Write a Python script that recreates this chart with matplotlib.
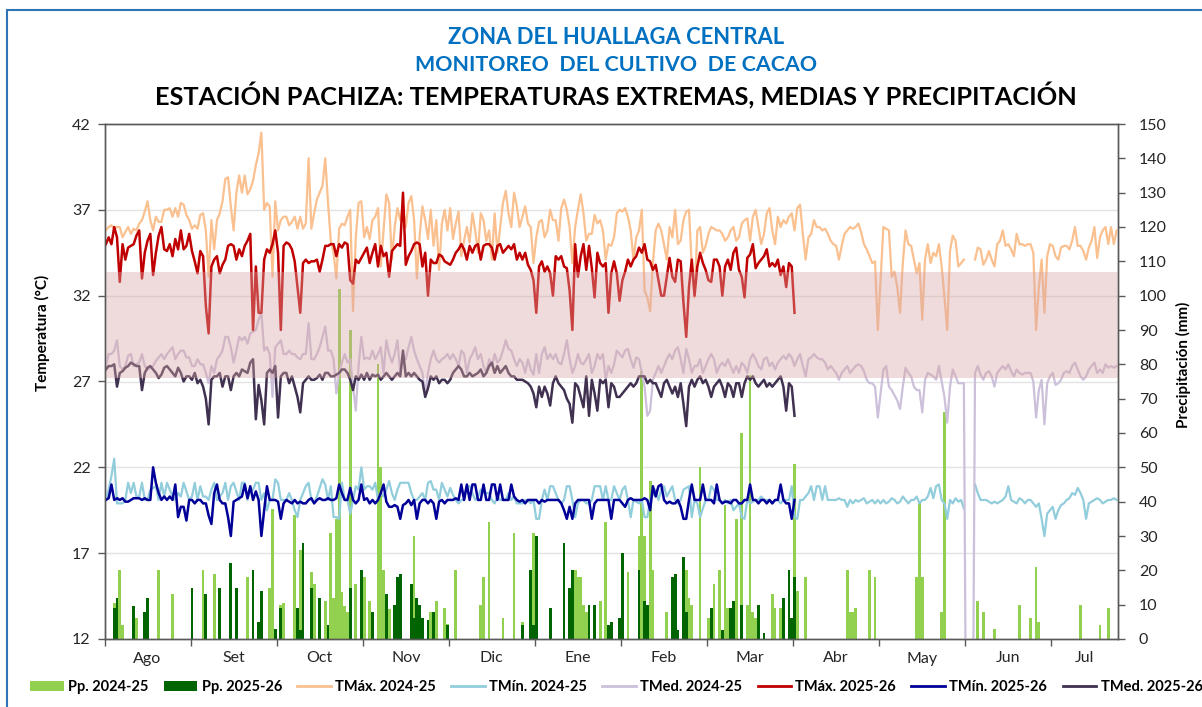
import numpy as np
import matplotlib
matplotlib.use("Agg")
import matplotlib.pyplot as plt
from matplotlib.patches import Patch, Rectangle
from matplotlib.lines import Line2D

# categories: one per day, Aug 1 -> Jul 31, month label every 31 days
MONTHS = ["Ago", "Set", "Oct", "Nov", "Dic", "Ene", "Feb", "Mar", "Abr", "May", "Jun", "Jul"]
N_DAYS = 365
DAYS_PER_LABEL = 31

TEMP_TICKS = [12, 17, 22, 27, 32, 37, 42]
PP_TICKS = list(range(0, 151, 10))
BAND = (27.2, 33.4)  # shaded optimum range, degC

nan = np.nan

# ---- 2024-25 daily values (365) ----
tmax_2425 = [
    # Aug - Oct
    35.8, 36.0, 36.1, 35.9, 36.0, 36.0, 35.4, 35.7, 36.0, 35.6,
    35.9, 35.8, 36.2, 36.4, 36.9, 37.5, 36.4, 35.8, 36.6, 36.3,
    36.3, 37.0, 37.0, 37.1, 36.6, 37.1, 36.6, 37.4, 37.3, 36.7,
    36.4, 35.9, 36.1, 35.9, 36.7, 36.8, 35.8, 33.1, 36.4, 34.7,
    36.4, 36.8, 37.5, 38.8, 38.9, 37.2, 35.8, 38.0, 39.0, 38.0,
    39.0, 37.9, 38.2, 38.7, 39.6, 40.3, 41.5, 37.0, 37.4, 37.2,
    33.1, 37.5, 35.8, 36.4, 36.6, 36.6, 36.1, 36.3, 36.6, 35.9,
    36.6, 35.9, 36.2, 40.0, 35.9, 36.8, 37.6, 38.0, 38.4, 40.0,
    37.4, 35.2, 34.5, 33.0, 35.9, 36.2, 36.1, 36.6,
    # Oct - Jan
    37.0, 31.1, 35.4, 37.4, 37.5, 35.4, 36.0, 35.3, 36.4, 36.6,
    37.1, 33.7, 35.8, 37.9, 37.4, 34.1, 36.0, 37.1, 36.4, 37.2,
    36.0, 37.4, 37.8, 36.4, 33.0, 35.5, 37.2, 36.4, 35.3, 37.0,
    34.9, 36.4, 33.5, 36.2, 37.0, 35.8, 37.1, 35.3, 36.2, 36.9,
    34.3, 35.2, 36.0, 35.1, 36.8, 35.8, 34.5, 36.8, 36.4, 35.2,
    35.8, 34.1, 36.8, 34.5, 36.0, 37.4, 38.1, 36.8, 36.0, 38.0,
    37.2, 36.0, 36.6, 37.2, 36.2, 36.0, 33.9, 35.4, 36.3, 36.4,
    35.4, 35.8, 37.0, 36.4, 36.4, 35.2, 37.1, 37.6, 37.0, 36.0,
    33.9, 36.0, 37.0, 37.9, 36.8, 35.2, 35.6, 35.6, 36.7, 36.2,
    # Jan - Apr
    36.4, 35.8, 34.1, 35.0, 34.9, 35.4, 36.8, 37.0, 36.9, 37.1,
    36.6, 35.8, 34.1, 35.4, 35.8, 37.0, 32.3, 31.9, 31.1, 33.9,
    35.8, 36.2, 35.8, 35.0, 34.1, 36.0, 35.4, 37.0, 35.0, 35.2,
    36.4, 36.9, 37.0, 33.7, 31.9, 35.8, 36.0, 34.5, 34.9, 35.6,
    36.0, 35.9, 35.8, 35.8, 35.6, 35.2, 35.4, 35.8, 36.0, 35.2,
    35.4, 36.2, 36.4, 36.5, 35.2, 36.6, 37.0, 36.0, 35.0, 35.6,
    36.8, 37.1, 35.8, 35.0, 36.6, 36.0, 36.4, 36.2, 36.6, 36.8,
    35.8, 37.1, 37.3, 35.6, 34.1, 35.4, 35.6, 36.4, 36.0, 36.0,
    35.8, 35.9, 35.6, 35.2, 35.0, 34.9, 34.1, 34.9, 35.6, 35.8,
    # Apr - Jul
    36.0, 35.9, 36.0, 36.2, 35.7, 35.0, 34.7, 34.3, 33.9, 34.0,
    30.0, 32.9, 36.0, 35.9, 35.8, 33.1, 33.4, 32.5, 31.0, 33.9,
    35.8, 35.0, 34.9, 34.1, 33.3, 33.9, 30.6, 34.1, 35.0, 33.9,
    34.5, 34.3, 35.0, 33.7, 31.9, 30.0, 34.6, 35.5, 35.2, 33.7,
    33.9, 34.1, nan, nan, nan, 34.1, 34.8, 34.7, 33.8, 34.1,
    34.6, 34.1, 33.7, 35.0, 35.2, 35.8, 34.9, 35.0, 34.7, 34.3,
    35.6, 35.0, 35.0, 34.9, 35.0, 35.0, 34.5, 30.0, 32.5, 34.1,
    31.0, 34.3, 35.0, 34.9, 34.3, 34.1, 34.8, 34.9, 34.9, 34.7,
    35.2, 36.0, 34.9, 34.9, 34.6, 34.1, 34.8, 35.2, 36.0, 34.2,
    35.4, 35.8, 36.0, 35.0, 36.0, 35.0, 35.8,
]

tmin_2425 = [
    20.1, 20.7, 21.5, 22.5, 19.9, 19.9, 19.9, 20.1, 21.1, 20.5,
    21.1, 20.3, 20.3, 21.1, 20.1, 20.1, 20.7, 20.8, 20.9, 20.1,
    21.1, 20.3, 21.1, 20.7, 20.3, 20.1, 20.5, 20.3, 21.1, 20.6,
    20.1, 20.3, 21.1, 20.1, 20.9, 20.3, 20.3, 20.1, 20.7, 21.1,
    20.1, 20.3, 20.5, 21.1, 20.1, 20.9, 21.1, 20.6, 20.1, 21.1,
    21.1, 20.1, 20.7, 20.7, 21.1, 21.1, 20.1, 20.5, 19.5, 20.1,
    20.1, 21.3, 21.1, 20.1, 20.1, 20.1, 20.5, 20.1, 19.5, 19.1,
    20.1, 20.5, 20.9, 21.1, 20.1, 19.9, 20.3, 20.8, 21.3, 21.0,
    20.1, 20.9, 19.1, 19.1, 19.0, 21.1, 20.1, 20.1,
    19.3, 20.1, 20.9, 20.7, 22.0, 20.7, 20.9, 20.9, 20.7, 21.1,
    20.1, 20.5, 20.3, 20.7, 21.2, 20.5, 20.1, 20.7, 21.1, 21.1,
    21.1, 21.1, 20.5, 20.1, 20.1, 20.3, 20.5, 20.1, 21.1, 21.2,
    20.7, 20.7, 20.1, 21.1, 20.7, 20.3, 20.8, 20.4, 20.1, 19.9,
    20.1, 20.1, 20.9, 20.9, 20.5, 20.1, 20.3, 20.7, 20.5, 20.5,
    20.5, 20.1, 19.9, 20.3, 20.1, 20.1, 20.1, 20.5, 20.1, 20.3,
    19.9, 19.9, 19.9, 20.1, 20.1, 19.9, 20.1, 19.0, 19.0, 20.1,
    20.7, 20.1, 20.9, 20.9, 20.5, 20.1, 19.9, 20.1, 20.9, 20.9,
    20.1, 19.1, 19.9, 20.1, 20.1, 19.9, 19.9, 20.1, 20.9, 20.9,
    20.9, 20.1, 20.9, 20.1, 20.1, 20.9, 20.5, 20.1, 20.7, 20.9,
    20.1, 19.1, 20.1, 20.0, 19.9, 20.1, 19.1, 19.1, 20.1, 20.4,
    20.7, 20.1, 20.7, 20.9, 20.3, 20.6, 20.9, 20.1, 19.9, 20.1,
    20.7, 20.8, 20.9, 19.1, 20.1, 19.9, 19.1, 19.6, 20.1, 20.1,
    20.9, 20.7, 20.1, 20.1, 19.9, 20.1, 19.9, 20.1, 19.5, 19.7,
    19.9, 19.1, 19.0, 20.1, 19.9, 20.0, 20.1, 20.1, 20.3, 20.1,
    20.1, 20.1, 19.9, 20.1, 20.1, 19.9, 20.1, 20.1, 20.1, 20.9,
    19.1, 19.0, 20.1, 20.1, 20.3, 20.5, 20.9, 20.1, 20.9, 20.9,
    20.1, 20.9, 20.1, 20.1, 20.1, 20.1, 20.2, 20.1, 20.1, 19.7,
    20.1, 19.9, 20.1, 20.0, 20.1, 20.2, 19.9, 20.0, 20.1, 19.9,
    20.1, 19.9, 20.1, 19.9, 20.0, 20.2, 20.1, 19.9, 20.0, 20.3,
    20.1, 19.9, 20.1, 20.1, 20.3, 19.9, 20.1, 20.1, 20.3, 20.8,
    20.2, 20.9, 21.0, 20.1, 19.9, 19.0, 20.1, 19.9, 20.2, 20.0,
    20.1, 19.6, nan, nan, nan, 21.0, 20.5, 20.1, 20.1, 20.1,
    20.0, 19.9, 20.0, 19.9, 20.0, 20.1, 20.3, 20.9, 20.1, 20.0,
    19.9, 20.2, 20.1, 19.9, 20.1, 20.1, 19.9, 19.7, 19.9, 19.0,
    18.0, 19.3, 19.5, 19.7, 19.0, 19.5, 19.8, 19.9, 20.1, 20.2,
    20.5, 20.4, 20.8, 20.5, 20.1, 19.0, 19.9, 20.0, 20.1, 20.2,
    20.1, 19.9, 20.0, 20.1, 20.1, 20.2, 20.1,
]

# missing days were stored as 0 in the source sheet, so the line drops out of view
tmed_2425 = [
    27.9, 28.6, 28.6, 28.8, 29.4, 27.9, 27.7, 27.9, 28.5, 28.6,
    27.9, 28.0, 28.1, 28.6, 27.9, 27.7, 27.8, 27.9, 28.2, 28.4,
    28.6, 28.3, 28.6, 28.8, 29.0, 28.3, 28.6, 28.8, 28.8, 28.4,
    28.4, 27.9, 27.9, 28.3, 28.0, 28.0, 27.5, 26.9, 27.9, 27.5,
    28.3, 28.5, 28.8, 29.6, 29.6, 29.0, 28.1, 28.8, 29.6, 29.4,
    29.6, 29.2, 29.8, 29.9, 30.0, 30.6, 31.0, 28.8, 29.0, 28.6,
    26.1, 29.0, 29.2, 29.4, 28.6, 28.6, 28.8, 28.6, 28.6, 28.4,
    28.3, 28.6, 28.6, 30.4, 28.3, 28.3, 28.6, 29.0, 29.6, 30.2,
    28.8, 28.8, 28.3, 26.3, 27.5, 28.1, 28.6, 28.1,
    28.3, 26.7, 25.3, 27.9, 29.6, 28.3, 28.4, 28.3, 28.8, 28.3,
    28.6, 29.0, 27.5, 29.4, 28.6, 28.1, 28.6, 29.4, 27.5, 28.3,
    28.3, 29.0, 29.6, 28.8, 28.3, 27.9, 27.5, 26.3, 27.5, 28.3,
    28.8, 28.3, 28.1, 28.3, 28.4, 28.6, 28.3, 28.6, 28.3, 27.9,
    28.8, 28.6, 27.5, 28.3, 28.6, 29.0, 28.3, 28.6, 27.9, 27.5,
    28.3, 27.9, 28.6, 28.1, 28.3, 28.8, 29.4, 28.9, 28.8, 28.3,
    27.9, 28.3, 28.1, 27.5, 28.3, 27.7, 27.4, 28.6, 27.5, 28.6,
    29.0, 28.3, 28.6, 28.3, 28.6, 28.1, 28.0, 28.6, 29.4, 28.3,
    27.5, 27.9, 28.6, 28.1, 28.0, 28.3, 28.6, 27.5, 27.9, 28.6,
    28.3, 28.6, 27.1, 27.9, 27.5, 28.0, 28.8, 28.6, 28.4, 28.8,
    28.9, 28.3, 27.8, 28.4, 28.3, 27.5, 26.7, 25.0, 25.3, 27.1,
    27.5, 27.9, 27.5, 27.9, 28.3, 28.6, 28.3, 28.8, 29.0, 28.3,
    27.5, 28.9, 28.3, 27.5, 27.9, 27.9, 28.3, 27.5, 27.9, 28.3,
    28.6, 28.3, 27.5, 27.9, 28.1, 27.9, 28.3, 27.9, 27.5, 27.9,
    27.5, 28.1, 27.9, 27.5, 28.3, 28.6, 28.3, 27.9, 27.7, 28.3,
    28.4, 27.9, 28.1, 27.7, 28.1, 28.3, 28.5, 28.3, 28.6, 28.4,
    27.9, 28.3, 28.6, 27.9, 27.3, 28.3, 28.4, 28.6, 28.4, 28.3,
    28.3, 28.1, 27.7, 27.9, 27.7, 27.5, 27.1, 27.5, 27.7, 27.9,
    27.5, 27.7, 27.9, 28.0, 27.9, 27.6, 27.1, 26.9, 26.9, 26.7,
    24.9, 26.3, 27.7, 27.9, 26.7, 26.5, 26.2, 25.9, 25.4, 26.7,
    27.8, 27.5, 27.3, 26.7, 26.5, 26.5, 25.2, 27.1, 27.5, 27.4,
    27.3, 27.1, 27.9, 27.0, 26.1, 24.6, 26.7, 27.7, 27.3, 26.9,
    26.9, 26.9, 0.0, 0.0, 0.0, 27.5, 27.9, 27.4, 27.1, 27.5,
    27.6, 27.3, 26.7, 27.5, 27.7, 27.9, 27.7, 28.0, 27.6, 27.3,
    27.7, 27.5, 27.4, 27.5, 27.5, 27.5, 27.0, 24.9, 26.5, 27.1,
    24.5, 26.9, 27.3, 27.5, 26.8, 26.9, 27.1, 27.5, 27.6, 27.5,
    27.9, 28.1, 27.7, 27.3, 27.1, 27.3, 27.7, 27.9, 28.1, 27.5,
    27.7, 27.5, 28.0, 27.8, 27.9, 27.8, 27.9,
]

# ---- 2025-26 daily values (249, season still running) ----
tmax_2526 = [
    35.0, 35.4, 35.0, 36.0, 35.4, 32.8, 35.0, 34.1, 34.8, 34.9,
    35.0, 35.5, 35.8, 33.0, 34.5, 35.2, 35.6, 33.2, 34.5, 35.5,
    36.0, 34.7, 34.6, 35.0, 34.3, 35.3, 34.7, 35.8, 34.7, 34.9,
    35.6, 34.6, 34.0, 33.3, 34.6, 34.3, 31.4, 29.8, 33.7, 34.1,
    34.3, 33.3, 33.8, 34.1, 34.9, 35.0, 34.9, 34.1, 34.7, 34.3,
    34.9, 35.2, 35.6, 30.0, 33.7, 31.0, 31.0, 34.1, 34.7, 34.5,
    35.0, 35.8, 34.5, 30.0, 34.9, 35.1, 35.0, 34.7, 34.0, 32.5,
    31.0, 33.9, 34.1, 33.9, 34.0, 34.0, 34.1, 33.4, 34.1, 34.9,
    34.9, 35.0, 35.0, 34.3, 35.0, 34.8, 35.1, 35.0,
    32.9, 32.7, 34.1, 33.9, 34.2, 34.5, 34.8, 33.9, 34.5, 35.0,
    33.7, 34.9, 34.3, 34.5, 33.1, 34.6, 34.8, 35.0, 34.9, 38.0,
    33.8, 34.3, 34.6, 35.0, 35.1, 35.0, 33.7, 34.5, 32.0, 34.1,
    33.9, 33.9, 34.4, 34.3, 34.0, 33.9, 33.8, 34.1, 34.5, 34.7,
    35.0, 34.7, 34.1, 34.9, 34.5, 34.9, 35.0, 34.1, 34.9, 35.0,
    35.0, 34.8, 34.1, 34.9, 35.0, 34.5, 34.7, 34.9, 34.7, 35.0,
    34.1, 34.5, 34.1, 34.5, 33.8, 33.5, 32.9, 31.0, 33.7, 34.0,
    33.4, 33.7, 33.3, 32.0, 34.3, 34.1, 34.3, 33.7, 33.6, 32.3,
    30.0, 35.0, 33.1, 34.3, 35.0, 33.5, 34.9, 33.6, 31.9, 34.5,
    33.9, 33.7, 33.9, 31.0, 33.3, 34.0, 33.3, 31.7, 32.9, 33.4,
    34.1, 33.7, 34.1, 34.3, 34.8, 34.5, 35.0, 34.1, 34.0, 33.5,
    33.8, 32.9, 32.0, 32.0, 33.1, 34.2, 33.1, 32.8, 34.1, 34.0,
    31.6, 29.6, 32.5, 34.1, 32.0, 33.7, 34.5, 33.9, 33.5, 32.9,
    32.8, 34.1, 34.1, 33.7, 32.0, 33.7, 34.1, 33.5, 34.5, 34.8,
    33.5, 33.1, 31.9, 34.2, 34.4, 35.0, 33.6, 33.9, 34.1, 34.3,
    34.7, 33.7, 33.9, 33.7, 34.1, 33.2, 33.7, 32.5, 33.9, 33.7,
    31.0,
]

tmin_2526 = [
    20.1, 20.2, 21.0, 20.1, 20.2, 20.1, 20.2, 20.0, 20.0, 20.1,
    20.2, 20.2, 20.2, 20.1, 20.2, 20.1, 20.1, 22.0, 21.1, 20.5,
    20.1, 20.3, 20.1, 20.3, 20.1, 21.0, 19.1, 19.7, 19.7, 18.9,
    20.1, 20.1, 19.9, 20.1, 20.1, 19.9, 19.9, 19.2, 18.7, 20.5,
    21.0, 20.1, 19.9, 19.9, 19.1, 18.0, 20.0, 20.1, 20.2, 20.3,
    21.0, 20.2, 20.9, 20.1, 20.6, 20.1, 18.0, 19.5, 20.9, 20.1,
    20.1, 20.1, 20.0, 19.0, 19.9, 20.1, 20.0, 19.9, 20.1, 19.9,
    20.0, 19.9, 19.9, 20.1, 20.2, 19.9, 20.1, 20.2, 20.1, 20.1,
    20.2, 20.1, 20.1, 20.2, 21.0, 20.5, 20.1, 20.1,
    20.8, 20.1, 19.9, 20.1, 21.0, 20.1, 20.2, 19.9, 20.1, 19.9,
    20.1, 20.5, 21.0, 20.0, 19.7, 19.7, 19.8, 19.7, 19.0, 19.8,
    19.9, 20.1, 19.8, 20.1, 19.0, 19.9, 20.1, 20.1, 19.9, 20.1,
    19.9, 19.0, 20.0, 20.1, 19.9, 20.1, 20.1, 20.1, 20.2, 20.1,
    21.0, 20.1, 21.0, 20.1, 21.0, 21.0, 20.1, 20.1, 21.0, 20.1,
    20.1, 21.0, 21.0, 20.1, 21.0, 20.1, 20.1, 20.1, 21.0, 20.3,
    20.1, 20.0, 20.1, 19.9, 20.1, 20.1, 20.1, 20.1, 19.9, 20.1,
    20.0, 20.1, 20.1, 20.1, 20.1, 20.1, 19.9, 19.5, 19.0, 19.7,
    19.0, 19.9, 20.1, 20.1, 20.1, 20.1, 20.1, 19.0, 19.9, 20.1,
    20.1, 20.1, 20.1, 20.1, 19.0, 20.1, 20.1, 20.1, 19.9, 19.7,
    20.1, 20.2, 20.1, 20.1, 20.1, 20.1, 20.2, 20.1, 19.5, 20.9,
    20.3, 20.9, 21.0, 20.1, 19.9, 20.0, 19.9, 19.9, 20.1, 19.7,
    19.0, 19.0, 20.1, 21.0, 20.1, 20.1, 20.1, 21.0, 20.1, 20.1,
    20.1, 19.9, 21.0, 20.1, 19.9, 20.0, 20.0, 19.9, 20.1, 20.1,
    19.9, 19.9, 20.1, 20.1, 21.0, 20.1, 20.1, 19.9, 20.1, 20.1,
    19.9, 20.1, 19.9, 20.1, 20.1, 21.0, 20.1, 19.9, 19.9, 19.0,
    20.1,
]

tmed_2526 = [
    27.7, 27.9, 27.9, 28.0, 26.7, 27.5, 27.6, 27.8, 27.9, 28.1,
    28.0, 27.9, 27.9, 26.5, 27.5, 27.8, 27.9, 27.7, 27.5, 27.2,
    27.4, 27.8, 27.9, 27.7, 27.5, 27.3, 27.8, 27.5, 27.0, 27.3,
    27.3, 27.1, 27.5, 26.9, 27.1, 26.7, 26.0, 24.5, 27.1, 27.3,
    27.3, 27.5, 26.7, 27.3, 27.3, 26.5, 27.3, 27.5, 27.3, 27.7,
    27.6, 27.5, 28.1, 28.3, 24.8, 26.8, 25.9, 24.5, 27.5, 27.7,
    27.5, 27.9, 24.9, 27.3, 27.5, 27.5, 26.9, 27.3, 26.7, 26.1,
    25.2, 26.9, 27.1, 27.3, 27.1, 27.1, 27.2, 27.4, 27.1, 27.5,
    27.5, 27.3, 27.3, 27.4, 27.5, 27.7, 27.7, 27.5,
    27.1, 26.5, 27.3, 27.1, 27.4, 27.1, 27.5, 27.1, 27.4, 27.3,
    27.4, 27.1, 27.3, 27.5, 27.3, 27.1, 27.3, 27.5, 27.3, 28.8,
    27.3, 27.5, 27.3, 27.5, 27.3, 27.1, 27.0, 26.1, 26.6, 27.3,
    27.1, 27.3, 26.9, 27.1, 27.1, 26.9, 27.1, 27.5, 27.7, 27.9,
    27.7, 27.3, 27.3, 27.5, 27.3, 27.4, 27.5, 27.7, 27.3, 27.5,
    27.9, 28.1, 27.5, 27.9, 27.5, 27.7, 27.9, 27.5, 27.3, 27.3,
    27.1, 27.1, 27.1, 27.0, 26.9, 26.7, 26.3, 25.5, 26.7, 26.1,
    26.7, 26.3, 25.6, 26.9, 27.3, 26.9, 26.7, 26.5, 26.0, 25.7,
    24.6, 26.9, 26.7, 26.1, 25.5, 27.3, 25.0, 27.1, 26.3, 25.3,
    27.1, 26.9, 27.1, 25.5, 26.9, 26.7, 26.1, 26.1, 26.3, 26.5,
    26.7, 26.9, 26.7, 26.9, 27.3, 27.3, 27.3, 26.9, 27.1, 26.9,
    26.9, 26.5, 26.1, 26.9, 27.1, 26.7, 26.3, 26.7, 26.1, 26.9,
    25.7, 24.4, 26.7, 27.1, 26.7, 27.1, 27.3, 26.9, 27.1, 26.7,
    26.1, 26.7, 26.9, 27.1, 26.7, 26.1, 26.9, 26.7, 26.1, 26.9,
    26.9, 26.1, 26.9, 27.3, 27.1, 27.3, 26.9, 26.7, 26.9, 27.1,
    26.7, 26.9, 26.7, 26.9, 27.1, 27.3, 26.7, 25.3, 26.9, 26.7,
    25.0,
]

# ---- daily rainfall (mm), only rainy days listed: day of season -> mm ----
pp_2425_day = [
    3, 5, 6, 11, 19, 24, 35, 39, 51, 56,
    59, 60, 63, 64, 68, 70, 74, 75, 79, 81,
    82, 83, 84, 85, 86, 87, 88, 90, 93, 95,
    98, 99, 100, 102, 111, 112, 117, 119, 122, 123,
    126, 135, 136, 138, 143, 147, 150, 154, 169, 170,
    171, 172, 173, 178, 180, 188, 192, 193, 194, 196,
    197, 202, 205, 209, 210, 211, 214, 217, 219, 221,
    223, 224, 227, 229, 231, 232, 233, 234, 240, 241,
    243, 248, 249, 252, 267, 268, 269, 270, 275, 277,
    292, 293, 294, 301, 302, 314, 316, 320, 329, 333,
    335, 336, 351, 358, 361,
]
pp_2425_mm = [
    10.4, 20, 4, 6, 20, 13, 20, 19, 18, 9,
    15, 38, 10, 10.4, 36, 26, 19.5, 16, 11, 31,
    12, 35, 102, 13.6, 9.7, 8, 90, 16, 18, 11,
    80, 50, 20, 8.6, 30, 11, 8, 11, 9, 4.5,
    20, 10, 18, 34, 6, 31, 5, 31, 20, 18,
    18, 10, 8, 11, 34, 19.5, 30, 78, 30, 46,
    20, 8, 10, 20, 12, 10, 50, 6, 16, 20,
    39, 9, 35, 60, 10, 77, 8, 6, 13, 9,
    9, 51, 14, 18, 20, 8, 8, 9, 20, 18,
    18, 40, 18, 8, 66, 11, 8, 3, 10, 6,
    21, 5, 10, 4, 9,
]
pp_2526_day = [
    3, 4, 10, 14, 15, 31, 36, 41, 45, 47,
    53, 55, 56, 61, 63, 69, 70, 71, 74, 77,
    80, 88, 92, 96, 101, 104, 105, 106, 110, 111,
    112, 113, 114, 116, 118, 123, 150, 153, 154, 155,
    160, 165, 167, 168, 174, 176, 181, 182, 185, 186,
    192, 194, 195, 204, 205, 206, 208, 209, 218, 222,
    225, 226, 229, 235, 237, 244, 246, 247, 248,
]
pp_2526_mm = [
    9, 12, 9.7, 8, 12, 15, 13, 15, 22, 15,
    20, 5, 14, 3, 9, 9, 2.6, 28, 15, 12,
    4, 15, 20, 8, 13, 10, 18, 19, 16, 6,
    12, 10, 6, 5.5, 8, 4, 4, 20, 4, 30,
    9, 28, 15, 20, 10, 10, 4, 5, 6, 25,
    20, 11, 10, 18, 19, 2.6, 24, 8, 9, 2.6,
    9, 11, 10, 10, 1.8, 12, 20, 6, 18,
]

# colours
C_PP_2425 = "#92D050"
C_PP_2526 = "#006400"
C_TMAX_2425 = "#FAC08F"
C_TMIN_2425 = "#92CDDC"
C_TMED_2425 = "#CCC0DA"
C_TMAX_2526 = "#C00000"
C_TMIN_2526 = "#000099"
C_TMED_2526 = "#403151"
C_TITLE_BLUE = "#0070C0"
C_SPINE = "#595959"


def daily(values, days=None, n=None):
    """full daily array; for rain build it from the listed rainy days"""
    if days is None:
        return np.array(values, dtype=float)
    out = np.zeros(n)
    out[np.array(days)] = values
    return out


def main():
    plt.rcParams["font.family"] = ["Lato", "DejaVu Sans"]

    series_2425 = [daily(tmax_2425), daily(tmin_2425), daily(tmed_2425)]
    series_2526 = [daily(tmax_2526), daily(tmin_2526), daily(tmed_2526)]
    for s in series_2425:
        assert len(s) == N_DAYS, len(s)
    n_2526 = len(tmax_2526)
    for s in series_2526:
        assert len(s) == n_2526, len(s)
    assert len(pp_2425_day) == len(pp_2425_mm)
    assert len(pp_2526_day) == len(pp_2526_mm)

    pp_2425 = daily(pp_2425_mm, pp_2425_day, N_DAYS)
    pp_2526 = daily(pp_2526_mm, pp_2526_day, n_2526)

    x_2425 = np.arange(N_DAYS)
    x_2526 = np.arange(n_2526)

    W, H = 1202, 707
    fig = plt.figure(figsize=(W / 100, H / 100), dpi=100)
    left, right, top, bottom = 104.5, 1118, 124, 639
    ax_p = fig.add_axes([left / W, 1 - bottom / H, (right - left) / W, (bottom - top) / H])
    ax_t = ax_p.twinx()

    # rain on the axis underneath, temperatures on top of it
    ax_p.set_ylim(0, 150)
    ax_t.set_ylim(TEMP_TICKS[0], TEMP_TICKS[-1])
    ax_p.set_xlim(-0.5, N_DAYS - 0.5)

    # horizontal gridlines at the temperature ticks (drawn behind the bars)
    scale = 150 / (TEMP_TICKS[-1] - TEMP_TICKS[0])
    for t in TEMP_TICKS[1:-1]:
        ax_p.axhline((t - TEMP_TICKS[0]) * scale, color="#E3E3E3", lw=1.0, zorder=0.5)

    ax_p.bar(x_2425, pp_2425, width=1.0, color=C_PP_2425, linewidth=0, zorder=1)
    ax_p.bar(x_2526, pp_2526, width=1.0, color=C_PP_2526, linewidth=0, zorder=1.1)

    ax_t.plot(x_2425, series_2425[0], color=C_TMAX_2425, lw=1.6, zorder=2)
    ax_t.plot(x_2425, series_2425[1], color=C_TMIN_2425, lw=1.6, zorder=2)
    ax_t.plot(x_2425, series_2425[2], color=C_TMED_2425, lw=1.6, zorder=2)
    ax_t.plot(x_2526, series_2526[0], color=C_TMAX_2526, lw=1.8, zorder=2.1)
    ax_t.plot(x_2526, series_2526[1], color=C_TMIN_2526, lw=1.8, zorder=2.1)
    ax_t.plot(x_2526, series_2526[2], color=C_TMED_2526, lw=1.8, zorder=2.1)

    # translucent band laid over everything
    ax_t.axhspan(BAND[0], BAND[1], color="#D9A5A5", alpha=0.4, lw=0, zorder=2.4)

    # axes cosmetics
    for ax in (ax_p, ax_t):
        for sp in ax.spines.values():
            sp.set_color(C_SPINE)
            sp.set_linewidth(1.0)
    ax_t.yaxis.tick_left()
    ax_t.set_yticks(TEMP_TICKS)
    ax_t.tick_params(axis="y", direction="out", length=5, width=1, color=C_SPINE,
                     labelsize=11.5, pad=5, labelcolor="#262626")
    ax_p.yaxis.tick_right()
    ax_p.set_yticks(PP_TICKS)
    ax_p.tick_params(axis="y", direction="out", length=5, width=1, color=C_SPINE,
                     labelsize=11.5, pad=10, labelcolor="#262626")

    bounds = [-0.5 + DAYS_PER_LABEL * k for k in range(len(MONTHS))]
    ends = bounds[1:] + [N_DAYS - 0.5]
    centers = [(a + b) / 2 for a, b in zip(bounds, ends)]
    ax_p.set_xticks(bounds)
    ax_p.set_xticklabels([])
    ax_p.set_xticks(centers, minor=True)
    ax_p.set_xticklabels(MONTHS, minor=True)
    ax_p.tick_params(axis="x", which="major", direction="out", length=5, width=1, color=C_SPINE)
    ax_p.tick_params(axis="x", which="minor", length=0, labelsize=11.5, pad=9, labelcolor="#262626")
    ax_t.tick_params(axis="x", which="both", length=0, labelbottom=False)

    fig.text(42 / W, 1 - 333 / H, "Temperatura (°C)", rotation=90, ha="center", va="center",
             fontsize=11, fontweight="bold")
    fig.text(1183 / W, 1 - 365 / H, "Precipitación (mm)", rotation=90, ha="center", va="center",
             fontsize=11, fontweight="bold")

    # titles
    fig.text(616 / W, 1 - 37 / H, "ZONA DEL HUALLAGA CENTRAL", ha="center", va="center",
             fontsize=15.8, fontweight="bold", color=C_TITLE_BLUE)
    fig.text(616 / W, 1 - 65 / H, "MONITOREO  DEL CULTIVO  DE CACAO", ha="center", va="center",
             fontsize=15.4, fontweight="bold", color=C_TITLE_BLUE)
    fig.text(616 / W, 1 - 96 / H,
             "ESTACIÓN PACHIZA: TEMPERATURAS EXTREMAS, MEDIAS Y PRECIPITACIÓN",
             ha="center", va="center", fontsize=18.3, fontweight="bold", color="black")

    # legend along the bottom, runs off the right edge like the original
    handles = [
        Patch(facecolor=C_PP_2425, edgecolor="none"),
        Patch(facecolor=C_PP_2526, edgecolor="none"),
        Line2D([], [], color=C_TMAX_2425, lw=2),
        Line2D([], [], color=C_TMIN_2425, lw=2),
        Line2D([], [], color=C_TMED_2425, lw=2),
        Line2D([], [], color=C_TMAX_2526, lw=2),
        Line2D([], [], color=C_TMIN_2526, lw=2),
        Line2D([], [], color=C_TMED_2526, lw=2),
    ]
    labels = ["Pp. 2024-25", "Pp. 2025-26", "TMáx. 2024-25", "TMín. 2024-25",
              "TMed. 2024-25", "TMáx. 2025-26", "TMín. 2025-26", "TMed. 2025-26"]
    fig.legend(handles, labels, loc="center left", bbox_to_anchor=(30 / W, 1 - 687 / H),
               ncol=8, frameon=False, prop={"weight": "bold", "size": 10.5},
               handlelength=2.3, handleheight=0.7, handletextpad=0.3, columnspacing=1.05,
               borderpad=0, borderaxespad=0)

    # outer blue frame of the chart area (right and bottom edges are cut off)
    fig.add_artist(Rectangle((7 / W, -0.05), 1.2, 1 - 10 / H + 0.05, transform=fig.transFigure,
                             fill=False, edgecolor="#2E75B6", lw=1.5))

    fig.savefig("out.png", dpi=100)


if __name__ == "__main__":
    main()
